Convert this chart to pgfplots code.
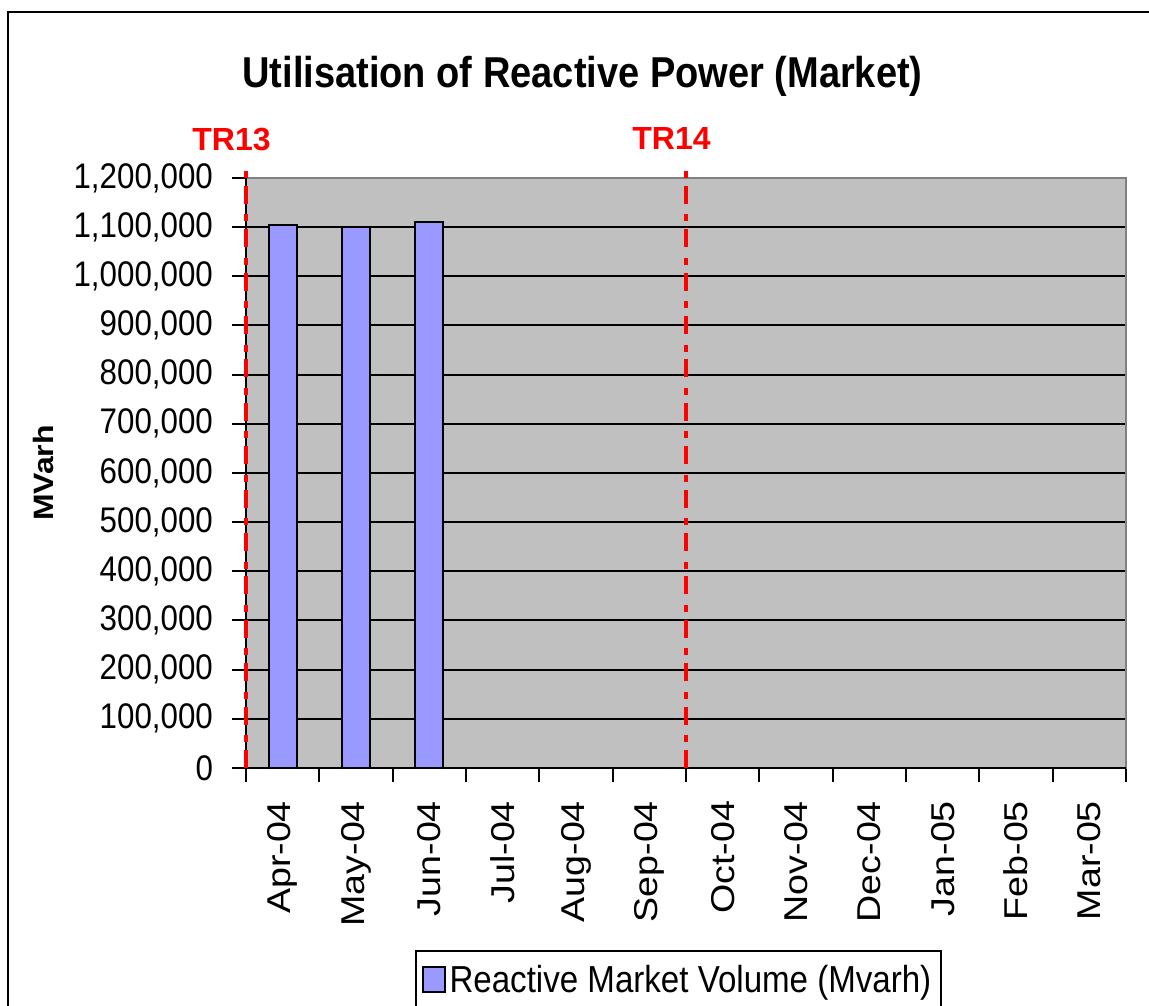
\documentclass[border=0pt]{standalone}
\usepackage{fontspec}
\setmainfont{Liberation Sans}
\newfontfamily\hfont[FakeStretch=0.88]{Liberation Sans}
\newfontfamily\vfont[FakeStretch=1.14]{Liberation Sans}
\usepackage{pgfplots}
\pgfplotsset{compat=1.18}
\definecolor{plotbg}{HTML}{C0C0C0}
\definecolor{barblue}{HTML}{9999FF}
\definecolor{frame}{HTML}{808080}
\definecolor{trred}{HTML}{FF0000}
\begin{document}
\begin{tikzpicture}[x=0.5pt,y=0.5pt]
\useasboundingbox (0,0) rectangle (1149,1005);
\clip (0,0) rectangle (1149,1005);
\fill[white] (0,0) rectangle (1149,1005);
% outer chart frame
\draw[line width=1pt] (8,-20) -- (8,993) -- (1180,993);
% title
\node[anchor=base, inner sep=0pt, font=\hfont\bfseries\fontsize{21.6}{24}\selectfont] at (582.5,917) {Utilisation of Reactive Power (Market)};
% y label
\node[anchor=base, rotate=90, inner sep=0pt, font=\vfont\bfseries\fontsize{14}{16}\selectfont] at (53,532) {MVarh};
\begin{axis}[
  at={(123pt,118.5pt)}, anchor=south west,
  scale only axis, width=440pt, height=295pt,
  clip=false,
  xmin=-0.5, xmax=11.5, ymin=0, ymax=1200000,
  axis background/.style={fill=plotbg},
  axis line style={draw=frame, line width=1pt},
  xtick={-0.5,0.5,...,11.5},
  x tick label as interval,
  xticklabels={Apr-04,May-04,Jun-04,Jul-04,Aug-04,Sep-04,Oct-04,Nov-04,Dec-04,Jan-05,Feb-05,Mar-05},
  ytick={0,100000,...,1200000},
  scaled y ticks=false,
  /pgf/number format/fixed,
  /pgf/number format/1000 sep={,},
  /pgf/number format/assume math mode=true,
  tick align=outside, xtick pos=bottom, ytick pos=left,
  major tick length=7pt,
  tick style={black, line width=1pt},
  ymajorgrids, grid style={black, line width=1pt},
  x tick label style={font=\vfont\fontsize{16.5}{18}\selectfont, yshift=-6pt, rotate=90, anchor=east},
  y tick label style={font=\hfont\fontsize{17.8}{20}\selectfont, xshift=-6pt},
  legend style={at={(rel axis cs:0.192,-0.3085)}, anchor=north west, draw=black, line width=1pt,
    fill=white, font=\hfont\fontsize{18.8}{21}\selectfont, inner xsep=3pt, inner ysep=5pt},
  legend image code/.code={\draw[#1,draw=black,line width=0.8pt] (0pt,-6pt) rectangle (11pt,6.5pt);},
]
\addplot[ybar, bar width=0.38, fill=barblue, draw=black, line width=1pt]
  coordinates {(0,1105000) (1,1101000) (2,1110500)};
\addlegendentry{Reactive Market Volume (Mvarh)}
\draw[black, line width=1pt] (rel axis cs:0,1) -- (rel axis cs:0,0) -- (rel axis cs:1,0);
\addplot[trred, line width=2pt, dash pattern=on 9pt off 3.85pt on 3.5pt off 5.35pt, forget plot]
  coordinates {(-0.5,0) (-0.5,1218000)};
\addplot[trred, line width=2pt, dash pattern=on 9pt off 3.85pt on 3.5pt off 5.35pt, forget plot]
  coordinates {(5.5,0) (5.5,1218000)};
\node[anchor=base, text=trred, font=\bfseries\fontsize{16}{18}\selectfont, inner sep=0pt]
  at (axis cs:-0.698,1256000) {TR13};
\node[anchor=base, text=trred, font=\bfseries\fontsize{16}{18}\selectfont, inner sep=0pt]
  at (axis cs:5.302,1258000) {TR14};
\end{axis}
\end{tikzpicture}
\end{document}
